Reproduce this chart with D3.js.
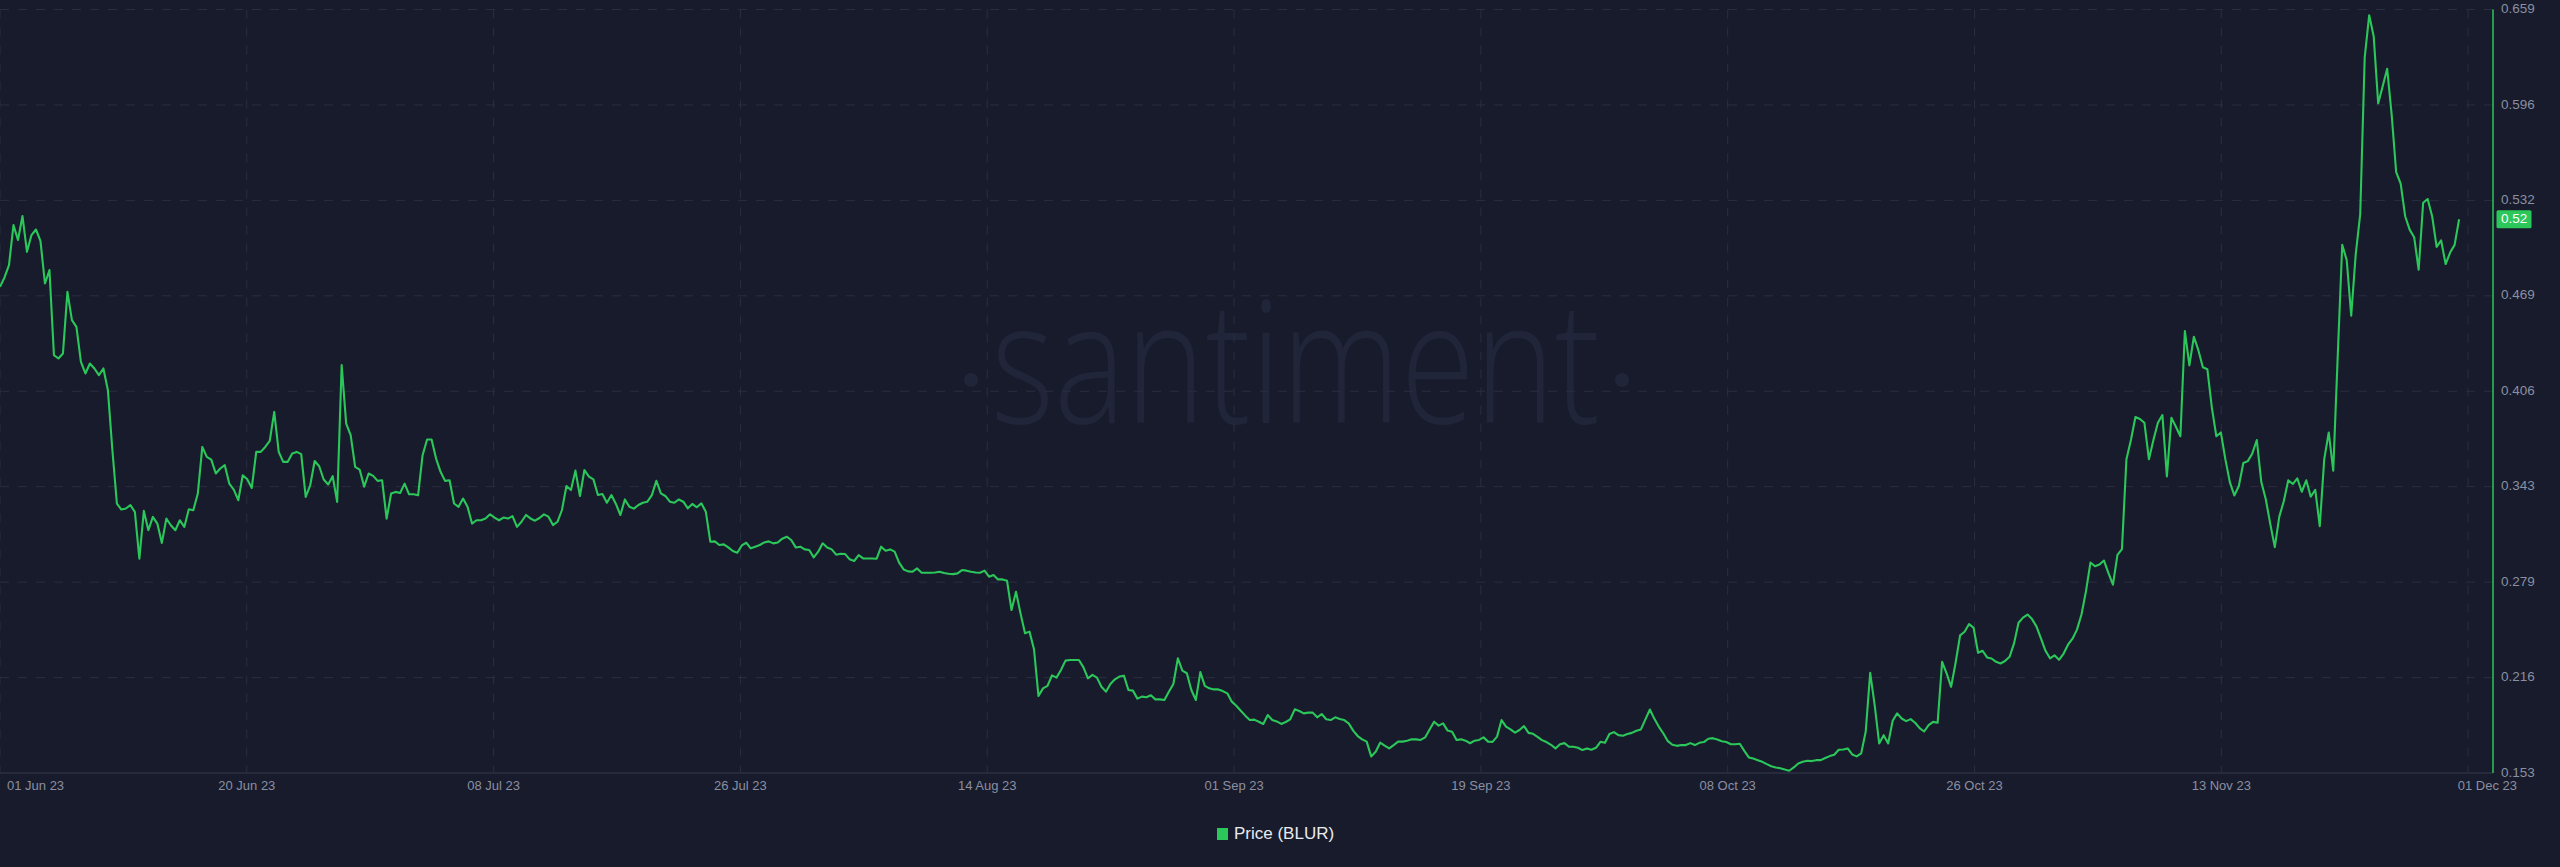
<!DOCTYPE html>
<html><head><meta charset="utf-8">
<script src="https://cdn.jsdelivr.net/npm/d3@7"></script>
<style>
html,body{margin:0;padding:0;background:#181b2b;overflow:hidden;}
svg{display:block;}
</style></head><body>
<svg id="chart" width="2560" height="867"></svg>
<script>
// ---------- data ----------
const seriesName = "Price (BLUR)";
const watermark = "santiment";
const startTime = Date.UTC(2023, 5, 1, 22);   // first sample (UTC)
const stepHours = 8;                           // sample spacing
const prices = [
0.4752,0.4814,0.4896,0.5161,0.5062,0.5221,0.4984,0.5095,0.5132,0.5057,
0.4774,0.4863,0.4299,0.4277,0.4310,0.4719,0.4531,0.4487,0.4255,0.4178,
0.4244,0.4211,0.4167,0.4211,0.4067,0.3669,0.3316,0.3276,0.3283,0.3305,
0.3261,0.2951,0.3267,0.3139,0.3227,0.3183,0.3055,0.3216,0.3172,0.3139,
0.3205,0.3161,0.3278,0.3271,0.3382,0.3691,0.3625,0.3607,0.3515,0.3548,
0.3570,0.3448,0.3408,0.3338,0.3503,0.3477,0.3419,0.3658,0.3658,0.3691,
0.3731,0.3923,0.3658,0.3592,0.3592,0.3647,0.3658,0.3643,0.3360,0.3437,
0.3598,0.3563,0.3475,0.3442,0.3497,0.3327,0.4233,0.3846,0.3769,0.3559,
0.3541,0.3428,0.3515,0.3499,0.3466,0.3470,0.3216,0.3382,0.3393,0.3386,
0.3448,0.3377,0.3377,0.3371,0.3636,0.3740,0.3740,0.3614,0.3526,0.3466,
0.3470,0.3316,0.3294,0.3349,0.3294,0.3183,0.3205,0.3205,0.3216,0.3245,
0.3223,0.3205,0.3223,0.3216,0.3232,0.3161,
0.3195,0.3240,0.3217,0.3202,0.3220,0.3244,0.3229,0.3173,0.3195,0.3273,
0.3432,0.3405,0.3534,0.3366,0.3538,0.3494,0.3476,0.3372,0.3379,0.3321,
0.3372,0.3313,0.3240,0.3343,0.3295,0.3282,0.3306,0.3321,0.3328,0.3372,
0.3467,0.3383,0.3366,0.3328,0.3321,0.3343,0.3328,0.3284,0.3313,0.3291,
0.3317,0.3262,0.3063,0.3065,0.3041,0.3045,0.3025,0.3001,0.2990,0.3038,
0.3056,0.3019,0.3030,0.3041,0.3058,0.3065,0.3052,0.3058,0.3083,0.3096,
0.3074,0.3025,0.3030,0.3012,0.3008,0.2959,0.2997,0.3052,0.3025,0.3012,
0.2977,0.2983,0.2981,0.2946,0.2935,0.2974,0.2952,0.2952,0.2952,0.2950,
0.3030,0.3003,0.3012,0.2997,0.2924,0.2879,0.2866,0.2864,0.2886,0.2857,
0.2857,0.2857,0.2859,0.2864,0.2855,0.2851,0.2848,0.2853,0.2875,0.2871,
0.2864,0.2859,0.2857,0.2871,0.2831,0.2842,0.2813,0.2813,0.2804,0.2610,
0.2731,
0.2588,0.2456,0.2467,0.2350,0.2040,0.2091,0.2107,0.2177,0.2162,0.2213,
0.2275,0.2279,0.2279,0.2279,0.2230,0.2157,0.2180,0.2162,0.2102,0.2069,
0.2120,0.2151,0.2169,0.2175,0.2080,0.2076,0.2023,0.2036,0.2032,0.2045,
0.2018,0.2018,0.2014,0.2069,0.2120,0.2290,0.2208,0.2191,0.2080,0.2014,
0.2199,0.2107,0.2091,0.2084,0.2084,0.2073,0.2058,0.2003,0.1976,0.1943,
0.1910,0.1881,0.1884,0.1870,0.1855,0.1914,0.1881,0.1872,0.1855,0.1868,
0.1886,0.1952,0.1941,0.1925,0.1930,0.1930,0.1899,0.1921,0.1886,0.1881,
0.1899,0.1888,0.1881,0.1859,0.1811,0.1775,0.1753,0.1738,0.1640,0.1671,
0.1731,0.1711,0.1693,0.1715,0.1738,0.1738,0.1744,0.1753,0.1753,0.1749,
0.1766,0.1819,0.1870,0.1844,0.1859,0.1811,0.1804,0.1749,0.1753,0.1744,
0.1727,0.1744,0.1749,0.1766,0.1738,0.1736,0.1771,0.1881,0.1837,0.1819,
0.1797,0.1815,
0.1841,0.1796,0.1790,0.1770,0.1748,0.1735,0.1717,0.1693,0.1721,0.1728,
0.1704,0.1704,0.1697,0.1682,0.1693,0.1684,0.1697,0.1737,0.1730,0.1788,
0.1801,0.1781,0.1777,0.1788,0.1796,0.1810,0.1819,0.1885,0.1951,0.1889,
0.1836,0.1792,0.1741,0.1717,0.1710,0.1715,0.1715,0.1728,0.1715,0.1730,
0.1735,0.1757,0.1761,0.1752,0.1741,0.1735,0.1721,0.1721,0.1724,0.1677,
0.1633,0.1626,0.1615,0.1604,0.1589,0.1575,0.1567,0.1562,0.1553,0.1545,
0.1567,0.1593,0.1604,0.1611,0.1609,0.1615,0.1615,0.1629,0.1642,0.1651,
0.1684,0.1686,0.1693,0.1653,0.1640,0.1660,0.1803,0.2194,0.1980,0.1726,
0.1781,0.1726,0.1876,0.1925,0.1891,0.1874,0.1887,0.1863,0.1827,0.1805,
0.1847,0.1869,0.1863,0.2267,0.2190,0.2101,0.2261,0.2442,0.2466,0.2517,
0.2493,0.2327,0.2340,0.2296,0.2289,0.2267,0.2256,0.2272,0.2300,0.2389,
0.2526,
0.2560,0.2580,0.2550,0.2500,0.2420,0.2340,0.2290,0.2310,0.2280,0.2320,
0.2380,0.2420,0.2480,0.2580,0.2735,0.2925,0.2900,0.2912,0.2938,0.2854,
0.2778,0.2976,0.3014,0.3610,0.3737,0.3889,0.3876,0.3851,0.3610,0.3737,
0.3851,0.3902,0.3496,0.3884,0.3825,0.3762,0.4459,0.4231,0.4421,0.4332,
0.4219,0.4206,0.3952,0.3762,0.3787,0.3610,0.3458,0.3369,0.3432,0.3584,
0.3597,0.3648,0.3737,0.3458,0.3344,0.3179,0.3027,0.3229,0.3331,0.3470,
0.3445,0.3483,0.3394,0.3470,0.3361,0.3407,0.3166,0.3610,0.3787,0.3534,
0.4295,0.5030,0.4929,0.4561,0.4967,0.5233,0.6273,0.6552,0.6412,0.5968,
0.6082,0.6197,0.5892,0.5512,0.5436,0.5220,0.5131,0.5081,0.4865,0.5309,
0.5334,0.5220,0.5017,0.5060,0.4903,0.4979,0.5030,0.5200
];
const yDomain = [0.153, 0.659];
const yTickValues = [0.153, 0.21625, 0.2795, 0.34275, 0.406, 0.46925, 0.5325, 0.59575, 0.659];
const yTickLabels = ["0.153","0.216","0.279","0.343","0.406","0.469","0.532","0.596","0.659"];
const xTickStepHours = 439.2;
const xTickCount = 11;
const xDomainHours = 4436.3;
const lastValueLabel = "0.52";

// ---------- layout ----------
const HOUR = 3600000;
const plot = {left: 0, right: 2493, top: 9.5, bottom: 773};
const green = "#2bc75a";
const gridColor = "#2a2e41";
const tickColor = "#8a8fa2";
const font = "'Liberation Sans', Arial, sans-serif";

const svg = d3.select("#chart");
svg.append("rect").attr("width", 2560).attr("height", 867).attr("fill", "#181b2b");

const x = d3.scaleUtc()
  .domain([new Date(startTime), new Date(startTime + xDomainHours * HOUR)])
  .range([plot.left, plot.right]);
const y = d3.scaleLinear().domain(yDomain).range([plot.bottom, plot.top]);

// watermark
const wm = svg.append("g");
wm.append("text")
  .attr("x", 1295.5).attr("y", 423)
  .attr("text-anchor", "middle")
  .attr("font-family", "'Open Sans', 'Noto Sans', sans-serif")
  .attr("font-weight", 300)
  .attr("font-size", 170)
  .attr("textLength", 609).attr("lengthAdjust", "spacingAndGlyphs")
  .attr("fill", "#212539")
  .text(watermark);
wm.selectAll("circle").data([971, 1622]).join("circle")
  .attr("cx", d => d).attr("cy", 380).attr("r", 7).attr("fill", "#212539");

// x ticks
const xTicks = d3.range(xTickCount).map(i => new Date(startTime + i * xTickStepHours * HOUR));
const fmt = d3.utcFormat("%d %b %y");

svg.append("g").selectAll("line").data(xTicks).join("line")
  .attr("x1", d => x(d)).attr("x2", d => x(d))
  .attr("y1", plot.top).attr("y2", plot.bottom)
  .attr("stroke", gridColor).attr("stroke-width", 1)
  .attr("stroke-dasharray", "9,9");

// y grid
svg.append("g").selectAll("line").data(yTickValues.slice(1)).join("line")
  .attr("x1", plot.left).attr("x2", plot.right)
  .attr("y1", d => y(d)).attr("y2", d => y(d))
  .attr("stroke", gridColor).attr("stroke-width", 1)
  .attr("stroke-dasharray", "9,9");

// baseline
svg.append("line")
  .attr("x1", plot.left).attr("x2", plot.right)
  .attr("y1", plot.bottom).attr("y2", plot.bottom)
  .attr("stroke", "#262a3c").attr("stroke-width", 2);

// x labels
svg.append("g").selectAll("text").data(xTicks).join("text")
  .attr("x", (d, i) => i === 0 ? 7 : (i === xTickCount - 1 ? 2517 : x(d)))
  .attr("y", 787)
  .attr("text-anchor", (d, i) => i === 0 ? "start" : (i === xTickCount - 1 ? "end" : "middle"))
  .attr("dominant-baseline", "middle")
  .attr("font-family", font).attr("font-size", 13)
  .attr("fill", tickColor)
  .text(d => fmt(d));

// price line
const line = d3.line()
  .x((d, i) => x(new Date(startTime + i * stepHours * HOUR)))
  .y(d => y(d));
svg.append("path").datum(prices)
  .attr("d", line)
  .attr("fill", "none")
  .attr("stroke", green).attr("stroke-width", 2.1)
  .attr("stroke-linejoin", "round");

// right axis
svg.append("line")
  .attr("x1", plot.right).attr("x2", plot.right)
  .attr("y1", plot.top).attr("y2", plot.bottom)
  .attr("stroke", green).attr("stroke-width", 1.5);

svg.append("g").selectAll("text").data(yTickValues).join("text")
  .attr("x", 2501).attr("y", d => y(d))
  .attr("dominant-baseline", "middle")
  .attr("font-family", font).attr("font-size", 13.5)
  .attr("fill", tickColor)
  .text((d, i) => yTickLabels[i]);

// last value badge
const lastY = y(prices[prices.length - 1]);
svg.append("rect")
  .attr("x", 2496.5).attr("y", lastY - 9).attr("width", 35).attr("height", 18)
  .attr("rx", 1.5).attr("fill", green);
svg.append("text")
  .attr("x", 2501).attr("y", lastY + 0.5)
  .attr("dominant-baseline", "middle")
  .attr("font-family", font).attr("font-size", 13.5)
  .attr("fill", "#ffffff")
  .text(lastValueLabel);

// legend
const lg = svg.append("g");
lg.append("rect").attr("x", 1217).attr("y", 828).attr("width", 11).attr("height", 12).attr("fill", green);
lg.append("text")
  .attr("x", 1234).attr("y", 834.5)
  .attr("dominant-baseline", "middle")
  .attr("font-family", font).attr("font-size", 17)
  .attr("fill", "#e9ebf1")
  .text(seriesName);
</script>
</body></html>
